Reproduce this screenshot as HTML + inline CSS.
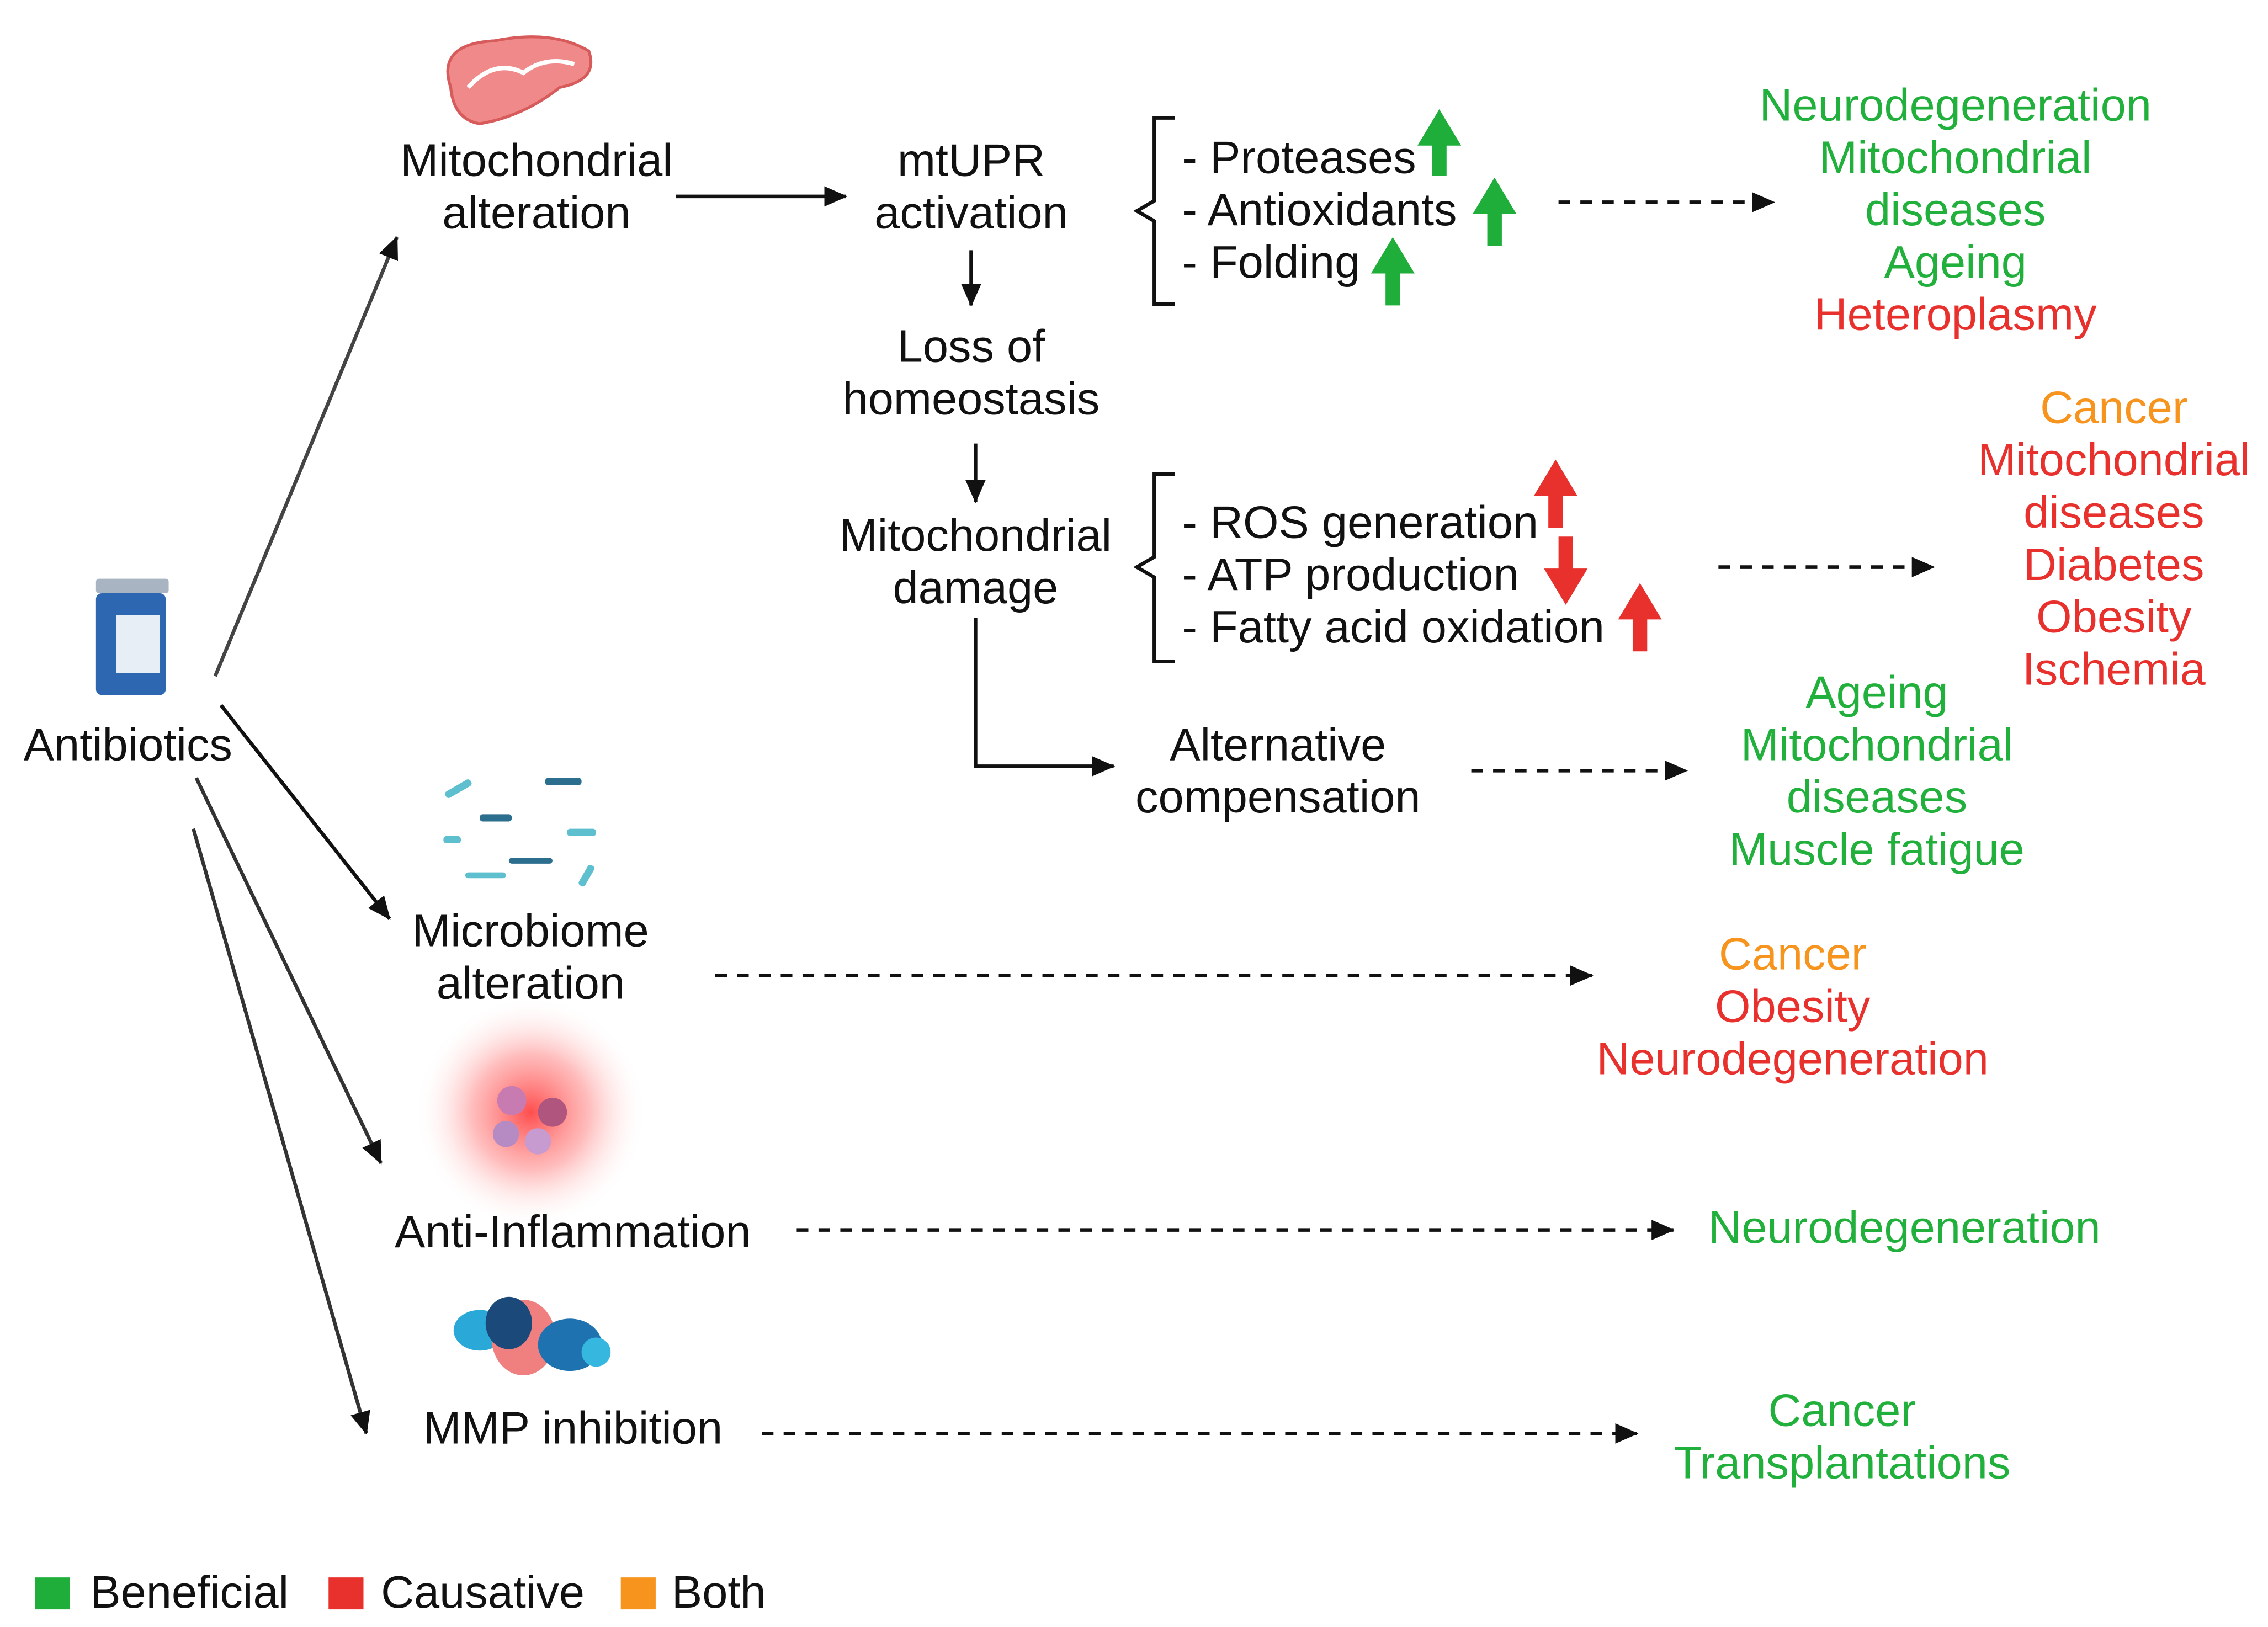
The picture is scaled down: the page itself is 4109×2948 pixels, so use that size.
<!DOCTYPE html>
<html><head><meta charset="utf-8"><style>
html,body{margin:0;padding:0;background:#fff;}
svg{display:block;}
text{font-family:"Liberation Sans",sans-serif;font-size:31.5px;dominant-baseline:central;}
.c{text-anchor:middle;}
.g{fill:#22b03c}.r{fill:#e8302c}.o{fill:#f7941d}.k{fill:#111}
</style></head><body>
<svg width="4109" height="2948" viewBox="0 0 1560 1119" xmlns="http://www.w3.org/2000/svg">
<defs>
<marker id="ah2" markerWidth="16" markerHeight="14" refX="15" refY="7" orient="auto" markerUnits="userSpaceOnUse"><path d="M0,0 L16,7 L0,14 z" fill="#111"/></marker>
<radialGradient id="glow"><stop offset="0" stop-color="#ff3a3a" stop-opacity="0.9"/><stop offset="0.5" stop-color="#ff6a6a" stop-opacity="0.45"/><stop offset="1" stop-color="#fff" stop-opacity="0"/></radialGradient>
</defs>
<g stroke="#111" stroke-width="2.5" fill="none">
<line x1="148" y1="465" x2="273" y2="163" marker-end="url(#ah2)" stroke="#444"/>
<line x1="152" y1="485" x2="268" y2="632" marker-end="url(#ah2)"/>
<line x1="135" y1="535" x2="262" y2="800" marker-end="url(#ah2)" stroke="#333"/>
<line x1="133" y1="570" x2="252" y2="986" marker-end="url(#ah2)" stroke="#333"/>
<line x1="465" y1="135" x2="582" y2="135" marker-end="url(#ah2)"/>
<line x1="668" y1="172" x2="668" y2="210" marker-end="url(#ah2)"/>
<line x1="671" y1="305" x2="671" y2="345" marker-end="url(#ah2)"/>
<polyline points="671,425 671,527 766,527" marker-end="url(#ah2)"/>
<path d="M808,81 H794 V138 L782,145 L794,152 V209 H808"/>
<path d="M808,326 H794 V383 L782,390 L794,397 V455 H808"/>
<g stroke-dasharray="8,7">
<line x1="1072" y1="139" x2="1220" y2="139" marker-end="url(#ah2)"/>
<line x1="1182" y1="390" x2="1330" y2="390" marker-end="url(#ah2)"/>
<line x1="1012" y1="530" x2="1160" y2="530" marker-end="url(#ah2)"/>
<line x1="492" y1="671" x2="1095" y2="671" marker-end="url(#ah2)"/>
<line x1="548" y1="846" x2="1151" y2="846" marker-end="url(#ah2)"/>
<line x1="524" y1="986" x2="1126" y2="986" marker-end="url(#ah2)"/>
</g>
</g>
<g fill="#1fae3a">
<path d="M990,75 L1005,100 L995,100 L995,121 L985,121 L985,100 L975,100 z"/>
<path d="M1028,122 L1043,147 L1033,147 L1033,169 L1023,169 L1023,147 L1013,147 z"/>
<path d="M958,163 L973,188 L963,188 L963,210 L953,210 L953,188 L943,188 z"/>
</g>
<g fill="#e8302c">
<path d="M1070,316 L1085,341 L1075,341 L1075,363 L1065,363 L1065,341 L1055,341 z"/>
<path d="M1077,416 L1092,391 L1082,391 L1082,369 L1072,369 L1072,391 L1062,391 z"/>
<path d="M1128,401 L1143,426 L1133,426 L1133,448 L1123,448 L1123,426 L1113,426 z"/>
</g>
<g>
<path d="M310,60 Q300,30 340,28 Q380,20 405,35 Q412,55 385,60 Q360,80 330,85 Q312,82 310,60z" fill="#f08a8a" stroke="#d85b5b" stroke-width="2"/>
<path d="M322,60 Q340,40 360,50 Q375,38 395,44" stroke="#fff" stroke-width="3" fill="none"/>
<rect x="66" y="398" width="50" height="10" rx="2" fill="#a9b4c2"/>
<rect x="66" y="408" width="48" height="70" rx="4" fill="#2e67b1"/>
<rect x="80" y="423" width="30" height="40" fill="#e8eef6"/>
<circle cx="365" cy="765" r="80" fill="url(#glow)"/>
<circle cx="352" cy="757" r="10" fill="#c77bb0"/><circle cx="380" cy="765" r="10" fill="#b0557d"/>
<circle cx="348" cy="780" r="9" fill="#b68bc4"/><circle cx="370" cy="785" r="9" fill="#c79ad0"/>
<g fill="#5ec0cf">
<rect x="305" y="540" width="20" height="5" rx="2" transform="rotate(-30 315 542)"/>
<rect x="330" y="560" width="22" height="5" rx="2" fill="#2c6e8e"/>
<rect x="375" y="535" width="25" height="5" rx="2" fill="#2c6e8e"/>
<rect x="320" y="600" width="28" height="4" rx="2"/>
<rect x="350" y="590" width="30" height="4" rx="2" fill="#2c6e8e"/>
<rect x="390" y="570" width="20" height="5" rx="2"/>
<rect x="305" y="575" width="12" height="5" rx="2"/>
<rect x="395" y="600" width="16" height="5" rx="2" transform="rotate(-60 403 602)"/>
</g>
<g>
<ellipse cx="330" cy="915" rx="18" ry="14" fill="#2aa8d8"/>
<ellipse cx="360" cy="920" rx="22" ry="26" fill="#f08080"/>
<ellipse cx="350" cy="910" rx="16" ry="18" fill="#1b4a7a"/>
<ellipse cx="392" cy="925" rx="22" ry="18" fill="#1e72b0"/>
<ellipse cx="410" cy="930" rx="10" ry="10" fill="#35b7e0"/>
</g>
</g>
<g class="k">
<text class="c" x="369" y="110">Mitochondrial</text><text class="c" x="369" y="146">alteration</text>
<text class="c" x="668" y="110">mtUPR</text><text class="c" x="668" y="146">activation</text>
<text class="c" x="668" y="238">Loss of</text><text class="c" x="668" y="274">homeostasis</text>
<text class="c" x="671" y="368">Mitochondrial</text><text class="c" x="671" y="404">damage</text>
<text x="813" y="108">- Proteases</text><text x="813" y="144">- Antioxidants</text><text x="813" y="180">- Folding</text>
<text x="813" y="359">- ROS generation</text><text x="813" y="395">- ATP production</text><text x="813" y="431">- Fatty acid oxidation</text>
<text class="c" x="879" y="512">Alternative</text><text class="c" x="879" y="548">compensation</text>
<text class="c" x="88" y="512">Antibiotics</text>
<text class="c" x="365" y="640">Microbiome</text><text class="c" x="365" y="676">alteration</text>
<text class="c" x="394" y="847">Anti-Inflammation</text>
<text class="c" x="394" y="982">MMP inhibition</text>
<text x="62" y="1095">Beneficial</text><text x="262" y="1095">Causative</text><text x="462" y="1095">Both</text>
</g>
<text class="c g" x="1345" y="72">Neurodegeneration</text>
<text class="c g" x="1345" y="108">Mitochondrial</text>
<text class="c g" x="1345" y="144">diseases</text>
<text class="c g" x="1345" y="180">Ageing</text>
<text class="c r" x="1345" y="216">Heteroplasmy</text>
<text class="c o" x="1454" y="280">Cancer</text>
<text class="c r" x="1454" y="316">Mitochondrial</text>
<text class="c r" x="1454" y="352">diseases</text>
<text class="c r" x="1454" y="388">Diabetes</text>
<text class="c r" x="1454" y="424">Obesity</text>
<text class="c r" x="1454" y="460">Ischemia</text>
<text class="c g" x="1291" y="476">Ageing</text>
<text class="c g" x="1291" y="512">Mitochondrial</text>
<text class="c g" x="1291" y="548">diseases</text>
<text class="c g" x="1291" y="584">Muscle fatigue</text>
<text class="c o" x="1233" y="656">Cancer</text>
<text class="c r" x="1233" y="692">Obesity</text>
<text class="c r" x="1233" y="728">Neurodegeneration</text>
<text class="c g" x="1310" y="844">Neurodegeneration</text>
<text class="c g" x="1267" y="970">Cancer</text>
<text class="c g" x="1267" y="1006">Transplantations</text>
<rect x="24" y="1085" width="24" height="22" fill="#1fae3a"/>
<rect x="226" y="1085" width="24" height="22" fill="#e8302c"/>
<rect x="427" y="1085" width="24" height="22" fill="#f7941d"/>
</svg>
</body></html>
